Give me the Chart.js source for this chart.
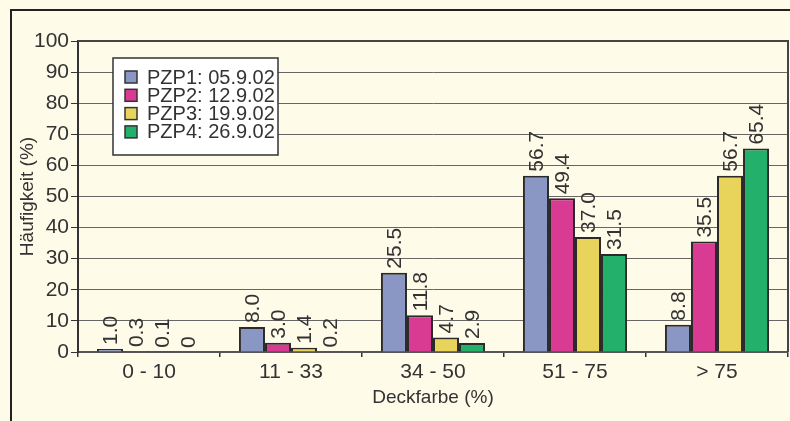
<!DOCTYPE html>
<html>
<head>
<meta charset="utf-8">
<script src="https://cdn.jsdelivr.net/npm/chart.js@4/dist/chart.umd.min.js"></script>
<style>
  html, body { margin: 0; padding: 0; background: #fefbe9; }
  #wrap { width: 790px; height: 421px; }
</style>
</head>
<body>
<div id="wrap"><canvas id="chart1" width="790" height="421"></canvas></div>
<script>
// values
const categories = ['0 - 10', '11 - 33', '34 - 50', '51 - 75', '> 75']
const seriesNames = ['PZP1: 05.9.02', 'PZP2: 12.9.02', 'PZP3: 19.9.02', 'PZP4: 26.9.02']
const pzp1 = [1.0, 8.0, 25.5, 56.7, 8.8]
const pzp2 = [0.3, 3.0, 11.8, 49.4, 35.5]
const pzp3 = [0.1, 1.4, 4.7, 37.0, 56.7]
const pzp4 = [0, 0.2, 2.9, 31.5, 65.4]
const yTicks = [0, 10, 20, 30, 40, 50, 60, 70, 80, 90, 100]

const colors = ['#8a97c4', '#d93a92', '#e8d45a', '#22b06a']
const textColor = '#333'
const fontFamily = '"Liberation Sans", Arial, sans-serif'

// background, outer frame, plot border
const framePlugin = {
  id: 'frame',
  beforeDraw(chart) {
    const ctx = chart.ctx
    ctx.save()
    ctx.fillStyle = '#fefbe9'
    ctx.fillRect(0, 0, chart.width, chart.height)
    ctx.strokeStyle = '#222'
    ctx.lineWidth = 2
    ctx.beginPath()
    ctx.moveTo(11, chart.height)
    ctx.lineTo(11, 10)
    ctx.lineTo(chart.width, 10)
    ctx.stroke()
    ctx.restore()
  },
  afterDraw(chart) {
    const ctx = chart.ctx
    const a = chart.chartArea
    ctx.save()
    ctx.strokeStyle = '#444'
    ctx.lineWidth = 2
    ctx.beginPath()
    ctx.moveTo(a.left, a.top)
    ctx.lineTo(a.right, a.top)
    ctx.lineTo(a.right, a.bottom)
    ctx.stroke()
    ctx.restore()
  }
}

// rotated value labels above bars
const valueLabels = {
  id: 'valueLabels',
  afterDatasetsDraw(chart) {
    const ctx = chart.ctx
    ctx.save()
    ctx.font = '21px ' + fontFamily
    ctx.fillStyle = textColor
    ctx.textAlign = 'left'
    ctx.textBaseline = 'middle'
    chart.data.datasets.forEach((ds, i) => {
      chart.getDatasetMeta(i).data.forEach((bar, j) => {
        const v = ds.data[j]
        const txt = v === 0 ? '0' : v.toFixed(1)
        ctx.save()
        ctx.translate(bar.x + 1, bar.y - 4)
        ctx.rotate(-Math.PI / 2)
        ctx.fillText(txt, 0, 0)
        ctx.restore()
      })
    })
    ctx.restore()
  }
}

// legend box inside the plot
const boxLegend = {
  id: 'boxLegend',
  afterDraw(chart) {
    const ctx = chart.ctx
    ctx.save()
    ctx.fillStyle = '#ffffff'
    ctx.fillRect(113, 58, 165, 97)
    ctx.strokeStyle = '#333'
    ctx.lineWidth = 1.5
    ctx.strokeRect(113, 58, 165, 97)
    ctx.font = '20px ' + fontFamily
    ctx.textBaseline = 'middle'
    ctx.textAlign = 'left'
    seriesNames.forEach((name, i) => {
      const cy = 77 + i * 18.3
      ctx.fillStyle = colors[i]
      ctx.fillRect(125, cy - 6, 12, 12)
      ctx.strokeStyle = '#333'
      ctx.lineWidth = 1.5
      ctx.strokeRect(125, cy - 6, 12, 12)
      ctx.fillStyle = textColor
      ctx.fillText(name, 147, cy + 1)
    })
    ctx.restore()
  }
}

const seriesValues = [pzp1, pzp2, pzp3, pzp4]

const data = {
  labels: categories,
  datasets: seriesValues.map((vals, i) => ({
    label: seriesNames[i],
    data: vals,
    backgroundColor: colors[i],
    borderColor: '#2a2a2a',
    borderWidth: 2,
    categoryPercentage: 0.733,
    barPercentage: 1.0
  }))
}

const config = {
  type: 'bar',
  data: data,
  plugins: [framePlugin, valueLabels, boxLegend],
  options: {
    responsive: false,
    animation: false,
    layout: { padding: { left: 0, top: 41, right: 2, bottom: 0 } },
    plugins: { legend: { display: false }, tooltip: { enabled: false } },
    scales: {
      x: {
        afterFit(s) { s.height = 69 },
        grid: { offset: true, drawOnChartArea: false, drawTicks: true, tickLength: 5, color: '#333', lineWidth: 1.5 },
        border: { color: '#555', width: 2 },
        ticks: { color: textColor, font: { family: fontFamily, size: 21 }, padding: 3, maxRotation: 0 },
        title: { display: true, text: 'Deckfarbe (%)', color: textColor, font: { family: fontFamily, size: 19 }, padding: { top: 0, bottom: 12 } }
      },
      y: {
        min: 0,
        max: 100,
        afterFit(s) { s.width = 78 },
        afterBuildTicks(s) { s.ticks = yTicks.map(v => ({ value: v })) },
        grid: { color: '#666', lineWidth: 1, tickLength: 7, tickColor: '#333' },
        border: { color: '#333', width: 2 },
        ticks: { color: textColor, font: { family: fontFamily, size: 21 }, padding: 2 },
        title: { display: true, text: 'Häufigkeit (%)', color: textColor, font: { family: fontFamily, size: 19 }, padding: { top: 16, bottom: 0 } }
      }
    }
  }
}

const myChart = new Chart(document.getElementById('chart1'), config)
</script>
</body>
</html>
